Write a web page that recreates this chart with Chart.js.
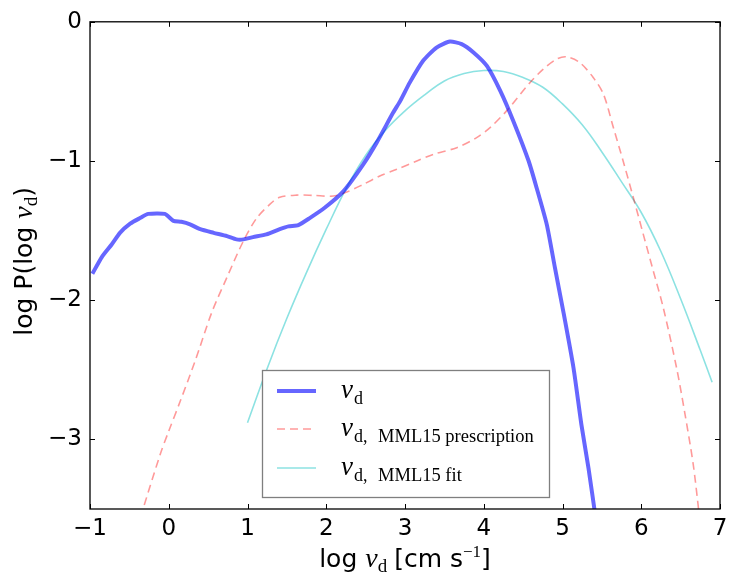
<!DOCTYPE html>
<html><head><meta charset="utf-8">
<script src="https://cdn.jsdelivr.net/npm/chart.js@4/dist/chart.umd.min.js"></script>
<style>html,body{margin:0;padding:0;background:#fff;}canvas{display:block;}</style>
</head><body>
<canvas id="c" width="737" height="577"></canvas>
<script>
// ---- data ----
const vdX = [-0.97,-0.85,-0.725,-0.62,-0.49,-0.365,-0.26,-0.05,0.06,0.16,0.27,0.40,0.57,0.74,0.86,0.95,1.07,1.24,1.41,1.52,1.645,1.79,1.98,2.22,2.47,2.64,2.85,2.94,3.06,3.23,3.40,3.57,3.72,3.87,4.04,4.21,4.375,4.57,4.67,4.80,4.905,5.01,5.14,5.24,5.33,5.42];
const vdY = [-1.81,-1.69,-1.60,-1.516,-1.45,-1.41,-1.38,-1.38,-1.43,-1.437,-1.455,-1.49,-1.516,-1.54,-1.563,-1.563,-1.547,-1.527,-1.49,-1.47,-1.46,-1.41,-1.336,-1.216,-1.024,-0.868,-0.652,-0.568,-0.437,-0.28,-0.185,-0.142,-0.16,-0.22,-0.317,-0.496,-0.712,-1.0,-1.19,-1.455,-1.77,-2.08,-2.487,-2.894,-3.206,-3.56];

const presX = [-0.36,-0.11,0.0,0.143,0.333,0.545,0.736,0.947,1.117,1.286,1.41,1.625,1.836,2.09,2.26,2.47,2.68,2.895,3.15,3.36,3.657,3.91,4.08,4.29,4.587,4.756,4.926,5.05,5.22,5.39,5.52,5.646,5.77,5.90,6.026,6.153,6.28,6.45,6.556,6.66,6.74];
const presY = [-3.56,-3.11,-2.94,-2.73,-2.44,-2.09,-1.84,-1.576,-1.41,-1.31,-1.26,-1.245,-1.247,-1.252,-1.223,-1.168,-1.108,-1.06,-1.0,-0.952,-0.904,-0.832,-0.76,-0.64,-0.437,-0.34,-0.268,-0.252,-0.293,-0.40,-0.52,-0.76,-1.0,-1.264,-1.527,-1.79,-2.055,-2.49,-2.82,-3.18,-3.56];

const fitX = [1.0,1.25,1.5,1.75,2.0,2.25,2.5,2.75,3.0,3.25,3.5,3.75,4.0,4.25,4.5,4.75,5.0,5.25,5.5,5.75,6.0,6.25,6.5,6.75,6.9];
const fitY = [-2.88,-2.49,-2.13,-1.80,-1.49,-1.20,-0.96,-0.78,-0.64,-0.525,-0.425,-0.372,-0.35,-0.357,-0.40,-0.47,-0.59,-0.74,-0.935,-1.15,-1.37,-1.65,-1.99,-2.36,-2.59];

const xTicks = [-1,0,1,2,3,4,5,6,7];
const yTicks = [0,-1,-2,-3];
const seriesNames = ['v_d', 'v_d, MML15 prescription', 'v_d, MML15 fit'];

const toPts = (xs, ys) => xs.map((x,i)=>({x, y: ys[i]}));
const minus = v => String(v).replace('-', '\u2212');

const SANS = '"DejaVu Sans", sans-serif';
const SERIF = '"Liberation Serif", "DejaVu Serif", serif';

function drawSegs(ctx, segs, cx, baseY){
  let total = 0;
  segs.forEach(s=>{ctx.font = s.font; s.w = ctx.measureText(s.text).width; total += s.w + (s.gap||0);});
  let x = cx - total/2;
  ctx.textAlign='left'; ctx.textBaseline='alphabetic';
  segs.forEach(s=>{ctx.font = s.font; ctx.fillText(s.text, x, baseY + (s.dy||0)); x += s.w + (s.gap||0);});
}

const decor = {
  id: 'decor',
  afterDatasetsDraw(chart){
    const {ctx, chartArea:a, scales:{x, y}} = chart;
    ctx.save();
    ctx.strokeStyle = '#000'; ctx.lineWidth = 1;
    ctx.beginPath();
    xTicks.forEach(v=>{
      const px = Math.round(x.getPixelForValue(v)) + 0.5;
      ctx.moveTo(px, a.bottom); ctx.lineTo(px, a.bottom - 5);
      ctx.moveTo(px, a.top); ctx.lineTo(px, a.top + 5);
    });
    yTicks.forEach(v=>{
      const py = Math.round(y.getPixelForValue(v)) + 0.5;
      ctx.moveTo(a.left, py); ctx.lineTo(a.left + 5, py);
      ctx.moveTo(a.right, py); ctx.lineTo(a.right - 5, py);
    });
    ctx.stroke();
    ctx.lineWidth = 1.3;
    ctx.strokeRect(a.left, a.top, a.right - a.left, a.bottom - a.top);

    // legend
    const lx = 262, ly = 370, lw = 287, lh = 127;
    ctx.fillStyle = '#fff';
    ctx.fillRect(lx, ly, lw, lh);
    ctx.strokeStyle = 'rgba(0,0,0,0.5)'; ctx.lineWidth = 1.3;
    ctx.strokeRect(lx + 0.5, ly + 0.5, lw, lh);
    const dsets = chart.data.datasets;
    const rowY = [391, 429, 468];
    dsets.forEach((d, i)=>{
      ctx.save();
      ctx.strokeStyle = d.borderColor; ctx.lineWidth = d.borderWidth;
      ctx.setLineDash(d.borderDash || []);
      ctx.beginPath(); ctx.moveTo(277, rowY[i]); ctx.lineTo(316, rowY[i]); ctx.stroke();
      ctx.restore();
      ctx.fillStyle = '#000';
      ctx.textAlign = 'left'; ctx.textBaseline = 'alphabetic';
      const parts = seriesNames[i].split('_');
      ctx.font = 'italic 27px ' + SERIF;
      ctx.fillText(parts[0], 341, rowY[i] + 7);
      const sub = parts[1];
      const comma = sub.indexOf(',');
      ctx.font = '18px ' + SERIF;
      if (comma < 0) {
        ctx.fillText(sub, 354, rowY[i] + 13);
      } else {
        ctx.fillText(sub.slice(0, comma + 1), 354, rowY[i] + 13);
        ctx.font = '18.5px ' + SERIF;
        ctx.fillText(sub.slice(comma + 2), 378, rowY[i] + 13);
      }
    });
    ctx.restore();
  },
  afterDraw(chart){
    const {ctx, chartArea:a} = chart;
    ctx.save();
    ctx.fillStyle = '#000';
    drawSegs(ctx, [
      {text:'log ', font:'25px ' + SANS},
      {text:'v', font:'italic 28px ' + SERIF},
      {text:'d', font:'19px ' + SERIF, dy:5, gap:7},
      {text:'[cm s', font:'25px ' + SANS},
      {text:'\u22121', font:'17px ' + SERIF, dy:-10},
      {text:']', font:'25px ' + SANS}
    ], (a.left + a.right)/2, 567);
    ctx.translate(32, (a.top + a.bottom)/2 - 4);
    ctx.rotate(-Math.PI/2);
    drawSegs(ctx, [
      {text:'log P(log ', font:'25px ' + SANS},
      {text:'v', font:'italic 28px ' + SERIF},
      {text:'d', font:'19px ' + SERIF, dy:5},
      {text:')', font:'25px ' + SANS}
    ], 0, 0);
    ctx.restore();
  }
};

new Chart(document.getElementById('c'), {
  type: 'line',
  data: {
    datasets: [
      {label: seriesNames[0], data: toPts(vdX, vdY), borderColor: 'rgba(0,0,255,0.6)', borderWidth: 4, pointRadius: 0, tension: 0.2, fill: false},
      {label: seriesNames[1], data: toPts(presX, presY), borderColor: 'rgba(255,0,0,0.4)', borderWidth: 1.6, borderDash: [8,5], pointRadius: 0, tension: 0.3, fill: false},
      {label: seriesNames[2], data: toPts(fitX, fitY), borderColor: 'rgba(0,191,191,0.45)', borderWidth: 1.6, pointRadius: 0, tension: 0.4, fill: false}
    ]
  },
  options: {
    responsive: false,
    animation: false,
    layout: {padding: {top: 21, right: 17, left: 0, bottom: 0}},
    plugins: {legend: {display: false}, tooltip: {enabled: false}},
    scales: {
      x: {
        type: 'linear', min: -1, max: 7,
        grid: {display: false, drawTicks: false},
        border: {display: false},
        afterBuildTicks: s => { s.ticks = xTicks.map(v=>({value:v})); },
        afterFit: s => { s.height = 68; },
        ticks: {color: '#000', font: {family: 'DejaVu Sans', size: 23}, padding: 6, maxRotation: 0, autoSkip: false, callback: v => minus(v)}
      },
      y: {
        type: 'linear', min: -3.5, max: 0,
        grid: {display: false, drawTicks: false},
        border: {display: false},
        afterBuildTicks: s => { s.ticks = yTicks.map(v=>({value:v})); },
        afterFit: s => { s.width = 90; },
        ticks: {color: '#000', font: {family: 'DejaVu Sans', size: 23}, padding: 8, autoSkip: false, callback: v => minus(v)}
      }
    }
  },
  plugins: [decor]
});
</script>
</body></html>
